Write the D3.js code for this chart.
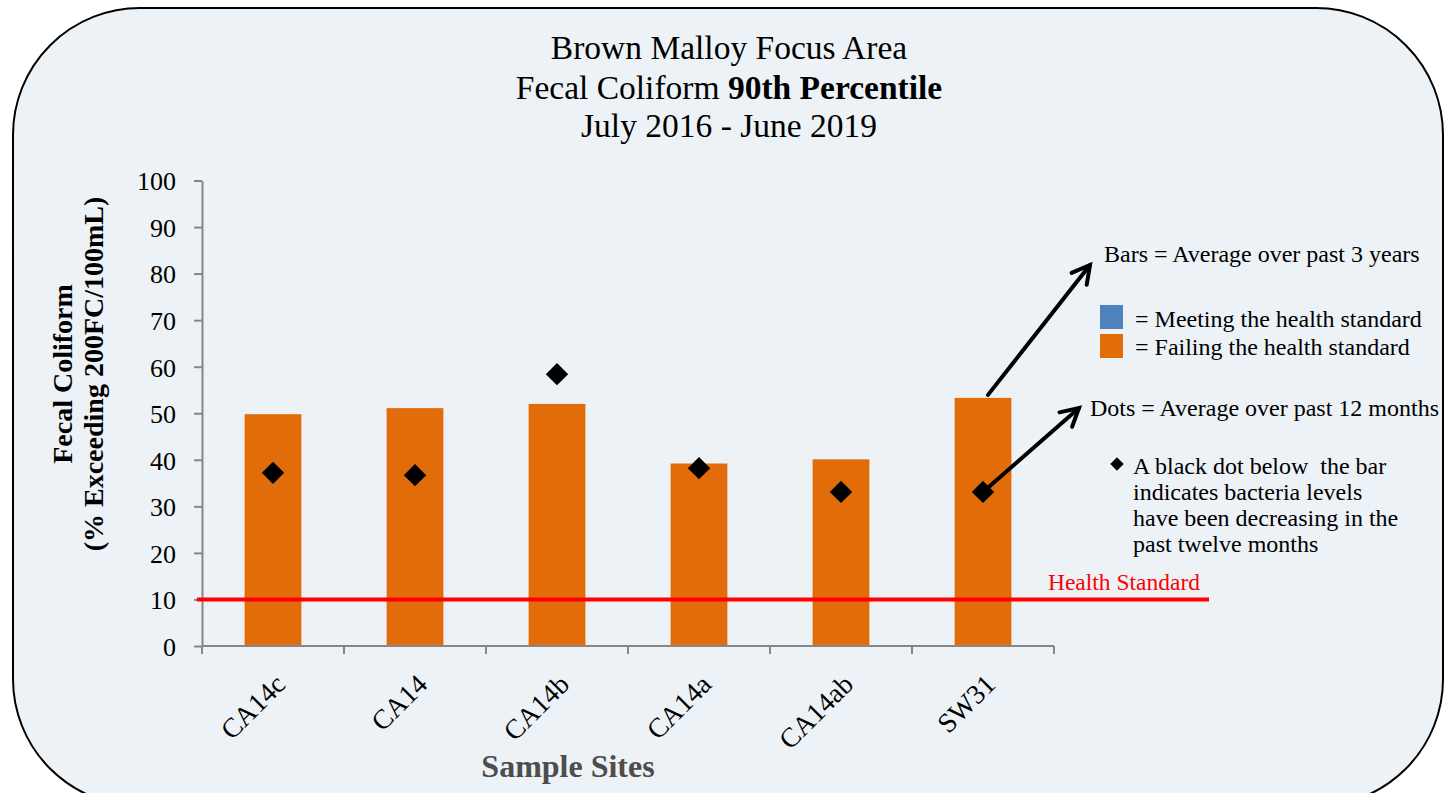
<!DOCTYPE html>
<html>
<head>
<meta charset="utf-8">
<script src="https://cdn.jsdelivr.net/npm/d3@7"></script>
<style>
  html, body { margin: 0; padding: 0; background: #ffffff; }
  svg { display: block; }
  text { font-family: "Liberation Serif", "Times New Roman", serif; }
</style>
</head>
<body>
<svg id="chart" width="1447" height="793"></svg>
<script>
// ---- data ----
const categories = ["CA14c", "CA14", "CA14b", "CA14a", "CA14ab", "SW31"];
const barValues = [49.8, 51.1, 52.0, 39.2, 40.1, 53.3];   // average over past 3 years
const dotValues = [37.2, 36.7, 58.4, 38.2, 33.1, 33.1];   // average over past 12 months
const yTicks = [0, 10, 20, 30, 40, 50, 60, 70, 80, 90, 100];
const healthStandard = 10;
const titleLines = ["Brown Malloy Focus Area", "Fecal Coliform ", "90th Percentile", "July 2016 - June 2019"];
const legendLabels = ["= Meeting the health standard", "= Failing the health standard"];
const noteLines = ["A black dot below  the bar", "indicates bacteria levels", "have been decreasing in the", "past twelve months"];

const COLOR_MEET = "#4F81BD";
const COLOR_FAIL = "#E36C0A";

const svg = d3.select("#chart");

// background rounded panel
svg.append("rect")
  .attr("x", 13).attr("y", 8).attr("width", 1430).attr("height", 798)
  .attr("rx", 127).attr("ry", 127)
  .attr("fill", "#EDF2F7").attr("stroke", "#000").attr("stroke-width", 2);

// scales
const x = d3.scaleBand().domain(categories).range([202, 1054]).paddingInner(0.6).paddingOuter(0.3);
const y = d3.scaleLinear().domain([0, 100]).range([646, 180.5]);

// title
const title = svg.append("text").attr("text-anchor", "middle").attr("fill", "#000").style("font-size", "33.5px");
title.append("tspan").attr("x", 729).attr("y", 59).text(titleLines[0]);
const l2 = title.append("tspan").attr("x", 729).attr("y", 99);
l2.text(titleLines[1]);
title.append("tspan").style("font-weight", "bold").text(titleLines[2]);
title.append("tspan").attr("x", 729).attr("y", 137).text(titleLines[3]);

// y axis
const yAxis = svg.append("g").attr("transform", "translate(202,0)")
  .call(d3.axisLeft(y).tickValues(yTicks).tickSize(8).tickSizeOuter(0).tickPadding(18));
yAxis.select(".domain").attr("stroke", "#868686").attr("stroke-width", 2);
yAxis.selectAll(".tick line").attr("stroke", "#868686").attr("stroke-width", 2);
yAxis.selectAll(".tick text").attr("fill", "#000").style("font-size", "26px")
  .style("font-family", "'Liberation Serif', serif").attr("dy", "0.36em");

// bars
svg.append("g").selectAll("rect").data(categories).join("rect")
  .attr("x", d => x(d)).attr("width", x.bandwidth())
  .attr("y", (d, i) => y(barValues[i]))
  .attr("height", (d, i) => y(0) - y(barValues[i]))
  .attr("fill", (d, i) => barValues[i] > healthStandard ? COLOR_FAIL : COLOR_MEET);

// x axis
const xg = svg.append("g");
xg.append("line").attr("x1", 202).attr("x2", 1054).attr("y1", y(0)).attr("y2", y(0))
  .attr("stroke", "#868686").attr("stroke-width", 2);
const bounds = categories.map(c => x(c) - x.step() * x.paddingInner() / 2);
bounds.push(x(categories[categories.length - 1]) + x.bandwidth() + x.step() * x.paddingInner() / 2);
xg.selectAll("line.t").data(bounds).join("line").attr("class", "t")
  .attr("x1", d => d).attr("x2", d => d).attr("y1", y(0)).attr("y2", y(0) + 8)
  .attr("stroke", "#868686").attr("stroke-width", 2);
xg.selectAll("text").data(categories).join("text")
  .attr("text-anchor", "end")
  .attr("transform", d => `translate(${x(d) + x.bandwidth() / 2 + 14},${y(0) + 40}) rotate(-45)`)
  .style("font-size", "27.5px").attr("fill", "#000")
  .text(d => d);

// health standard line
svg.append("line").attr("x1", 197).attr("x2", 1209).attr("y1", y(healthStandard)).attr("y2", y(healthStandard))
  .attr("stroke", "#FF0000").attr("stroke-width", 4);
svg.append("text").attr("x", 1200).attr("y", y(healthStandard) - 9).attr("text-anchor", "end")
  .attr("fill", "#FF0000").style("font-size", "23.5px").text("Health Standard");

// dots
const diamond = d3.symbol().type(d3.symbolSquare).size(250);
svg.append("g").selectAll("path").data(categories).join("path")
  .attr("d", diamond)
  .attr("transform", (d, i) => `translate(${x(d) + x.bandwidth() / 2},${y(dotValues[i])}) rotate(45)`)
  .attr("fill", "#000");

// axis titles
const yt = svg.append("text").attr("transform", "translate(0,374) rotate(-90)")
  .attr("text-anchor", "middle").style("font-weight", "bold").style("font-size", "28px").attr("fill", "#000");
yt.append("tspan").attr("x", 0).attr("y", 72).text("Fecal Coliform");
yt.append("tspan").attr("x", 0).attr("y", 103).text("(% Exceeding 200FC/100mL)");

svg.append("text").attr("x", 568).attr("y", 777).attr("text-anchor", "middle")
  .style("font-weight", "bold").style("font-size", "32px").attr("fill", "#4D4D4D").text("Sample Sites");

// legend / annotations
const fs = "24px";
svg.append("text").attr("x", 1104).attr("y", 262).style("font-size", fs).text("Bars = Average over past 3 years");
svg.append("rect").attr("x", 1100).attr("y", 305).attr("width", 23).attr("height", 24).attr("fill", COLOR_MEET);
svg.append("rect").attr("x", 1100).attr("y", 334).attr("width", 23).attr("height", 24).attr("fill", COLOR_FAIL);
svg.append("text").attr("x", 1135).attr("y", 327).style("font-size", fs).text(legendLabels[0]);
svg.append("text").attr("x", 1135).attr("y", 355).style("font-size", fs).text(legendLabels[1]);
svg.append("text").attr("x", 1090).attr("y", 416).style("font-size", fs).text("Dots = Average over past 12 months");
svg.append("path").attr("d", d3.symbol().type(d3.symbolSquare).size(90))
  .attr("transform", "translate(1117,464) rotate(45)").attr("fill", "#000");
const note = svg.append("text").style("font-size", fs).style("white-space", "pre");
noteLines.forEach((t, i) => note.append("tspan").attr("x", 1133).attr("y", 474 + i * 26).text(t));

// arrows
function arrow(x1, y1, x2, y2) {
  const g = svg.append("g").attr("stroke", "#000").attr("stroke-width", 4).attr("fill", "none").attr("stroke-linecap", "round");
  g.append("line").attr("x1", x1).attr("y1", y1).attr("x2", x2).attr("y2", y2);
  const a = Math.atan2(y2 - y1, x2 - x1);
  const L = 20, s = 0.5;
  const p1 = [x2 - L * Math.cos(a - s), y2 - L * Math.sin(a - s)];
  const p2 = [x2 - L * Math.cos(a + s), y2 - L * Math.sin(a + s)];
  g.append("path").attr("d", `M${p1[0]},${p1[1]}L${x2},${y2}L${p2[0]},${p2[1]}`).attr("stroke-linejoin", "miter");
}
const last = categories[categories.length - 1];
const lastX = x(last) + x.bandwidth() / 2;
arrow(lastX + 5, y(barValues[barValues.length - 1]) - 3, 1090, 265);
arrow(lastX, y(dotValues[dotValues.length - 1]), 1079, 408);
</script>
</body>
</html>
